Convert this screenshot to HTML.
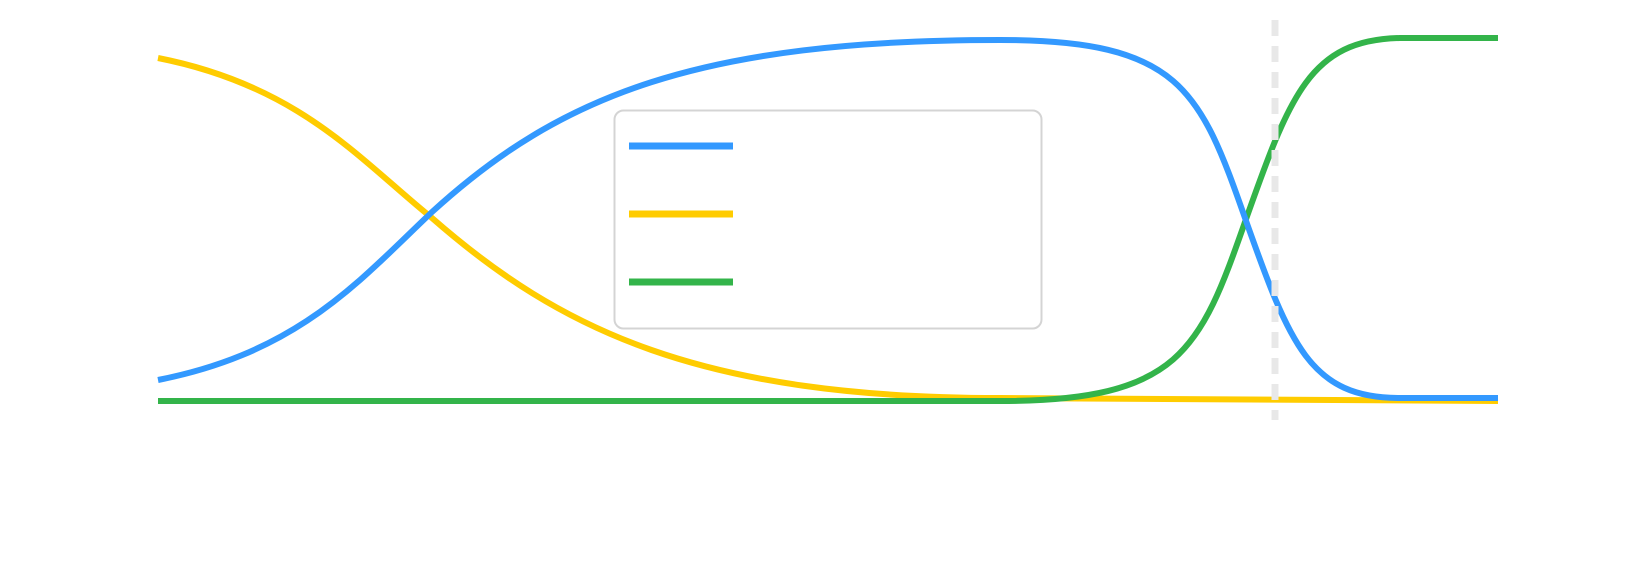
<!DOCTYPE html>
<html><head><meta charset="utf-8"><style>html,body{margin:0;padding:0;background:#fff;}svg{display:block}</style></head>
<body>
<svg width="1629" height="583" viewBox="0 0 1629 583" xmlns="http://www.w3.org/2000/svg">
<rect width="1629" height="583" fill="#fff"/>
<g fill="none" stroke-width="6">
<path d="M158,58 C300,86 360,160 432,218 C560,330 700,398 1000,398 L1498,401" stroke="#ffcc00"/>
<path d="M158,401 L1000,401 C1180,401 1200,350 1245,222 C1290,95 1310,40 1400,38 L1498,38" stroke="#33b44a"/>
<path d="M158,380 C300,352 360,280 432,212 C560,95 700,40 1000,40 C1180,40 1200,90 1245,218 C1290,345 1310,398 1400,398 L1498,398" stroke="#3399ff"/>
</g>
<line x1="1275" y1="20" x2="1275" y2="420" stroke="#e8e8e8" stroke-width="7" stroke-dasharray="16,10"/>
<rect x="614.5" y="110.5" width="427" height="218" rx="9" fill="#fff" stroke="#d4d4d4" stroke-width="2"/>
<line x1="629" y1="146" x2="733" y2="146" stroke="#3399ff" stroke-width="7"/>
<line x1="629" y1="214" x2="733" y2="214" stroke="#ffcc00" stroke-width="7"/>
<line x1="629" y1="282" x2="733" y2="282" stroke="#33b44a" stroke-width="7"/>
</svg>
</body></html>
